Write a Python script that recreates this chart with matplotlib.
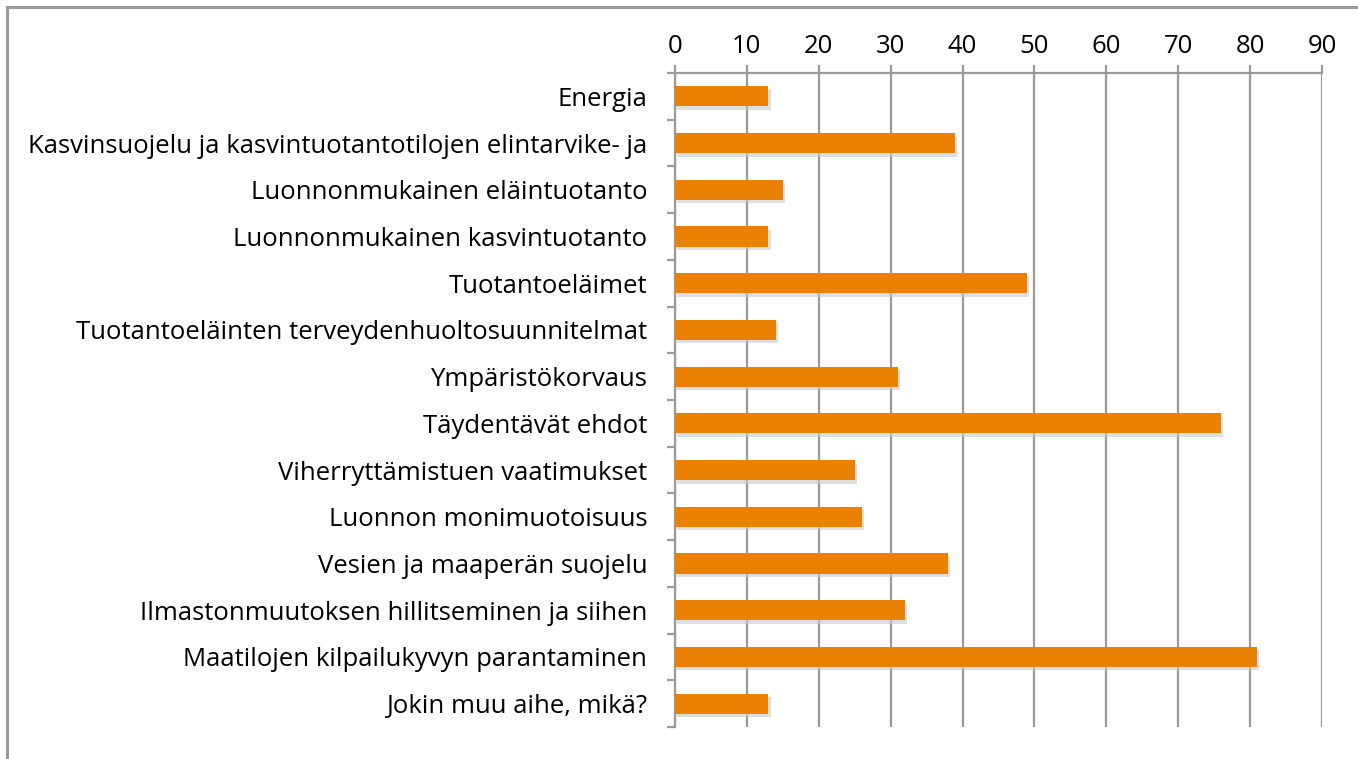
import matplotlib
matplotlib.use("Agg")
import matplotlib.pyplot as plt
import matplotlib.patheffects as pe
from matplotlib.patches import Rectangle
import numpy as np

plt.rcParams['font.family'] = ['Open Sans', 'DejaVu Sans']

# categories top to bottom, as in the chart
categories = [
    'Energia',
    'Kasvinsuojelu ja kasvintuotantotilojen elintarvike- ja',
    'Luonnonmukainen eläintuotanto',
    'Luonnonmukainen kasvintuotanto',
    'Tuotantoeläimet',
    'Tuotantoeläinten terveydenhuoltosuunnitelmat',
    'Ympäristökorvaus',
    'Täydentävät ehdot',
    'Viherryttämistuen vaatimukset',
    'Luonnon monimuotoisuus',
    'Vesien ja maaperän suojelu',
    'Ilmastonmuutoksen hillitseminen ja siihen',
    'Maatilojen kilpailukyvyn parantaminen',
    'Jokin muu aihe, mikä?',
]
values = [13, 39, 15, 13, 49, 14, 31, 76, 25, 26, 38, 32, 81, 13]
xticks = [0, 10, 20, 30, 40, 50, 60, 70, 80, 90]

grey = '#9a9a9a'
orange = '#ea8104'

fig = plt.figure(figsize=(13.58, 7.59), dpi=100)
# outer chart border
fig.add_artist(Rectangle((7 / 1358, -0.05), 1.2, 1 - 7 / 759 + 0.05,
                         transform=fig.transFigure, fill=False,
                         edgecolor=grey, linewidth=2.2))

ax = fig.add_axes([675 / 1358, 1 - 727 / 759, (1322 - 675) / 1358, (727 - 73) / 759])

n = len(categories)
pos = np.arange(n)
bars = ax.barh(pos, values, height=0.43, color=orange, zorder=3)
for b in bars:
    b.set_path_effects([pe.SimplePatchShadow(offset=(1.5, -2.5), shadow_rgbFace='#c8c8c8', alpha=0.6),
                        pe.Normal()])

ax.set_xlim(0, 90)
ax.set_ylim(n - 0.5, -0.5)

ax.xaxis.tick_top()
ax.set_xticks(xticks)
ax.set_xticklabels([str(t) for t in xticks], fontsize=18.5)
ax.tick_params(axis='x', direction='out', length=6, width=1.6, color=grey, pad=4)
ax.grid(axis='x', color=grey, linewidth=1.6, zorder=0)

# boundary ticks on the left, labels in between
ax.set_yticks(np.arange(n + 1) - 0.5)
ax.set_yticklabels([])
ax.tick_params(axis='y', which='major', direction='out', length=6, width=1.6, color=grey)
ax.set_yticks(pos, minor=True)
ax.set_yticklabels(categories, minor=True, fontsize=18.5)
ax.tick_params(axis='y', which='minor', length=0, pad=20)

for s in ['right', 'bottom']:
    ax.spines[s].set_visible(False)
for s in ['left', 'top']:
    ax.spines[s].set_color(grey)
    ax.spines[s].set_linewidth(1.6)

fig.savefig('out.png', dpi=100)
